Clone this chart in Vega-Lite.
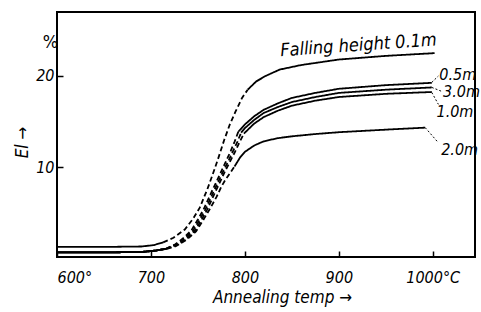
{
  "$schema": "https://vega.github.io/schema/vega-lite/v6.json",
  "width": 418,
  "height": 245,
  "autosize": "none",
  "padding": {"left": 57, "top": 12, "right": 6, "bottom": 55},
  "background": "white",
  "config": {
    "view": {"stroke": "black", "strokeWidth": 2},
    "font": "DejaVu Sans Condensed, Liberation Sans, sans-serif",
    "axis": {
      "domain": false, "grid": false,
      "tickColor": "black", "tickWidth": 1.5, "tickSize": -6,
      "labelFont": "DejaVu Sans Condensed, Liberation Sans, sans-serif", "labelFontStyle": "italic", "labelFontSize": 16, "labelColor": "black",
      "titleFont": "DejaVu Sans Condensed, Liberation Sans, sans-serif", "titleFontStyle": "italic", "titleFontWeight": "normal", "titleFontSize": 17, "titleColor": "black"
    }
  },
  "datasets": {
    "curves": [
      {"series": "0.1m", "seg": "solid-a", "temp": 600, "el": 1.3},
      {"series": "0.1m", "seg": "solid-a", "temp": 650, "el": 1.3},
      {"series": "0.1m", "seg": "solid-a", "temp": 690, "el": 1.35},
      {"series": "0.1m", "seg": "solid-a", "temp": 703, "el": 1.5},
      {"series": "0.1m", "seg": "solid-a", "temp": 713, "el": 1.8},
      {"series": "0.1m", "seg": "dashed", "temp": 713, "el": 1.8},
      {"series": "0.1m", "seg": "dashed", "temp": 724, "el": 2.3},
      {"series": "0.1m", "seg": "dashed", "temp": 736, "el": 3.2},
      {"series": "0.1m", "seg": "dashed", "temp": 745, "el": 4.4},
      {"series": "0.1m", "seg": "dashed", "temp": 752, "el": 5.6},
      {"series": "0.1m", "seg": "dashed", "temp": 760, "el": 7.6},
      {"series": "0.1m", "seg": "dashed", "temp": 766, "el": 9.3},
      {"series": "0.1m", "seg": "dashed", "temp": 772, "el": 11.1},
      {"series": "0.1m", "seg": "dashed", "temp": 778, "el": 13.0},
      {"series": "0.1m", "seg": "dashed", "temp": 784, "el": 14.7},
      {"series": "0.1m", "seg": "dashed", "temp": 790, "el": 16.1},
      {"series": "0.1m", "seg": "dashed", "temp": 797, "el": 17.6},
      {"series": "0.1m", "seg": "dashed", "temp": 803, "el": 18.5},
      {"series": "0.1m", "seg": "solid-b", "temp": 803, "el": 18.5},
      {"series": "0.1m", "seg": "solid-b", "temp": 812, "el": 19.4},
      {"series": "0.1m", "seg": "solid-b", "temp": 822, "el": 20.0},
      {"series": "0.1m", "seg": "solid-b", "temp": 837, "el": 20.7},
      {"series": "0.1m", "seg": "solid-b", "temp": 860, "el": 21.2},
      {"series": "0.1m", "seg": "solid-b", "temp": 900, "el": 21.8},
      {"series": "0.1m", "seg": "solid-b", "temp": 950, "el": 22.2},
      {"series": "0.1m", "seg": "solid-b", "temp": 1002, "el": 22.5},

      {"series": "0.5m", "seg": "solid-a", "temp": 600, "el": 0.7},
      {"series": "0.5m", "seg": "solid-a", "temp": 650, "el": 0.7},
      {"series": "0.5m", "seg": "solid-a", "temp": 690, "el": 0.75},
      {"series": "0.5m", "seg": "solid-a", "temp": 705, "el": 0.9},
      {"series": "0.5m", "seg": "solid-a", "temp": 716, "el": 1.1},
      {"series": "0.5m", "seg": "dashed", "temp": 716, "el": 1.1},
      {"series": "0.5m", "seg": "dashed", "temp": 726, "el": 1.6},
      {"series": "0.5m", "seg": "dashed", "temp": 735, "el": 2.3},
      {"series": "0.5m", "seg": "dashed", "temp": 743, "el": 3.1},
      {"series": "0.5m", "seg": "dashed", "temp": 750, "el": 4.3},
      {"series": "0.5m", "seg": "dashed", "temp": 756, "el": 5.4},
      {"series": "0.5m", "seg": "dashed", "temp": 764, "el": 7.2},
      {"series": "0.5m", "seg": "dashed", "temp": 770, "el": 8.5},
      {"series": "0.5m", "seg": "dashed", "temp": 775, "el": 9.6},
      {"series": "0.5m", "seg": "dashed", "temp": 780, "el": 10.7},
      {"series": "0.5m", "seg": "dashed", "temp": 785, "el": 11.8},
      {"series": "0.5m", "seg": "dashed", "temp": 789, "el": 12.8},
      {"series": "0.5m", "seg": "dashed", "temp": 793, "el": 13.9},
      {"series": "0.5m", "seg": "solid-b", "temp": 793, "el": 13.9},
      {"series": "0.5m", "seg": "solid-b", "temp": 800, "el": 14.7},
      {"series": "0.5m", "seg": "solid-b", "temp": 810, "el": 15.6},
      {"series": "0.5m", "seg": "solid-b", "temp": 820, "el": 16.3},
      {"series": "0.5m", "seg": "solid-b", "temp": 835, "el": 17.0},
      {"series": "0.5m", "seg": "solid-b", "temp": 850, "el": 17.6},
      {"series": "0.5m", "seg": "solid-b", "temp": 875, "el": 18.15},
      {"series": "0.5m", "seg": "solid-b", "temp": 900, "el": 18.6},
      {"series": "0.5m", "seg": "solid-b", "temp": 950, "el": 19.0},
      {"series": "0.5m", "seg": "solid-b", "temp": 999, "el": 19.25},

      {"series": "3.0m", "seg": "solid-a", "temp": 600, "el": 0.7},
      {"series": "3.0m", "seg": "solid-a", "temp": 650, "el": 0.7},
      {"series": "3.0m", "seg": "solid-a", "temp": 690, "el": 0.75},
      {"series": "3.0m", "seg": "solid-a", "temp": 705, "el": 0.9},
      {"series": "3.0m", "seg": "solid-a", "temp": 716, "el": 1.1},
      {"series": "3.0m", "seg": "dashed", "temp": 716, "el": 1.1},
      {"series": "3.0m", "seg": "dashed", "temp": 728, "el": 1.6},
      {"series": "3.0m", "seg": "dashed", "temp": 737, "el": 2.3},
      {"series": "3.0m", "seg": "dashed", "temp": 745, "el": 3.1},
      {"series": "3.0m", "seg": "dashed", "temp": 752, "el": 4.3},
      {"series": "3.0m", "seg": "dashed", "temp": 758, "el": 5.4},
      {"series": "3.0m", "seg": "dashed", "temp": 766, "el": 7.2},
      {"series": "3.0m", "seg": "dashed", "temp": 772, "el": 8.5},
      {"series": "3.0m", "seg": "dashed", "temp": 777, "el": 9.6},
      {"series": "3.0m", "seg": "dashed", "temp": 782, "el": 10.6},
      {"series": "3.0m", "seg": "dashed", "temp": 787, "el": 11.7},
      {"series": "3.0m", "seg": "dashed", "temp": 792, "el": 12.8},
      {"series": "3.0m", "seg": "dashed", "temp": 796, "el": 13.8},
      {"series": "3.0m", "seg": "solid-b", "temp": 796, "el": 13.8},
      {"series": "3.0m", "seg": "solid-b", "temp": 800, "el": 14.3},
      {"series": "3.0m", "seg": "solid-b", "temp": 810, "el": 15.2},
      {"series": "3.0m", "seg": "solid-b", "temp": 820, "el": 15.95},
      {"series": "3.0m", "seg": "solid-b", "temp": 835, "el": 16.6},
      {"series": "3.0m", "seg": "solid-b", "temp": 850, "el": 17.15},
      {"series": "3.0m", "seg": "solid-b", "temp": 875, "el": 17.7},
      {"series": "3.0m", "seg": "solid-b", "temp": 900, "el": 18.15},
      {"series": "3.0m", "seg": "solid-b", "temp": 950, "el": 18.5},
      {"series": "3.0m", "seg": "solid-b", "temp": 999, "el": 18.75},

      {"series": "1.0m", "seg": "solid-a", "temp": 600, "el": 0.7},
      {"series": "1.0m", "seg": "solid-a", "temp": 650, "el": 0.7},
      {"series": "1.0m", "seg": "solid-a", "temp": 690, "el": 0.75},
      {"series": "1.0m", "seg": "solid-a", "temp": 705, "el": 0.9},
      {"series": "1.0m", "seg": "solid-a", "temp": 716, "el": 1.1},
      {"series": "1.0m", "seg": "dashed", "temp": 716, "el": 1.1},
      {"series": "1.0m", "seg": "dashed", "temp": 730, "el": 1.6},
      {"series": "1.0m", "seg": "dashed", "temp": 739, "el": 2.3},
      {"series": "1.0m", "seg": "dashed", "temp": 747, "el": 3.1},
      {"series": "1.0m", "seg": "dashed", "temp": 754, "el": 4.3},
      {"series": "1.0m", "seg": "dashed", "temp": 760, "el": 5.4},
      {"series": "1.0m", "seg": "dashed", "temp": 768, "el": 7.2},
      {"series": "1.0m", "seg": "dashed", "temp": 774, "el": 8.5},
      {"series": "1.0m", "seg": "dashed", "temp": 779, "el": 9.6},
      {"series": "1.0m", "seg": "dashed", "temp": 784, "el": 10.6},
      {"series": "1.0m", "seg": "dashed", "temp": 789, "el": 11.6},
      {"series": "1.0m", "seg": "dashed", "temp": 794, "el": 12.7},
      {"series": "1.0m", "seg": "dashed", "temp": 799, "el": 13.7},
      {"series": "1.0m", "seg": "solid-b", "temp": 799, "el": 13.7},
      {"series": "1.0m", "seg": "solid-b", "temp": 810, "el": 14.8},
      {"series": "1.0m", "seg": "solid-b", "temp": 820, "el": 15.5},
      {"series": "1.0m", "seg": "solid-b", "temp": 835, "el": 16.2},
      {"series": "1.0m", "seg": "solid-b", "temp": 850, "el": 16.75},
      {"series": "1.0m", "seg": "solid-b", "temp": 875, "el": 17.3},
      {"series": "1.0m", "seg": "solid-b", "temp": 900, "el": 17.7},
      {"series": "1.0m", "seg": "solid-b", "temp": 950, "el": 18.05},
      {"series": "1.0m", "seg": "solid-b", "temp": 999, "el": 18.25},

      {"series": "2.0m", "seg": "solid-a", "temp": 600, "el": 0.7},
      {"series": "2.0m", "seg": "solid-a", "temp": 650, "el": 0.7},
      {"series": "2.0m", "seg": "solid-a", "temp": 690, "el": 0.75},
      {"series": "2.0m", "seg": "solid-a", "temp": 705, "el": 0.9},
      {"series": "2.0m", "seg": "solid-a", "temp": 717, "el": 1.1},
      {"series": "2.0m", "seg": "dashed", "temp": 717, "el": 1.1},
      {"series": "2.0m", "seg": "dashed", "temp": 727, "el": 1.4},
      {"series": "2.0m", "seg": "dashed", "temp": 738, "el": 2.1},
      {"series": "2.0m", "seg": "dashed", "temp": 748, "el": 3.0},
      {"series": "2.0m", "seg": "dashed", "temp": 756, "el": 4.3},
      {"series": "2.0m", "seg": "dashed", "temp": 763, "el": 5.5},
      {"series": "2.0m", "seg": "dashed", "temp": 770, "el": 6.8},
      {"series": "2.0m", "seg": "dashed", "temp": 775, "el": 7.9},
      {"series": "2.0m", "seg": "dashed", "temp": 779, "el": 8.6},
      {"series": "2.0m", "seg": "dashed", "temp": 783, "el": 9.2},
      {"series": "2.0m", "seg": "dashed", "temp": 789, "el": 10.1},
      {"series": "2.0m", "seg": "solid-b", "temp": 789, "el": 10.1},
      {"series": "2.0m", "seg": "solid-b", "temp": 795, "el": 11.1},
      {"series": "2.0m", "seg": "solid-b", "temp": 800, "el": 11.7},
      {"series": "2.0m", "seg": "solid-b", "temp": 810, "el": 12.4},
      {"series": "2.0m", "seg": "solid-b", "temp": 820, "el": 12.85},
      {"series": "2.0m", "seg": "solid-b", "temp": 835, "el": 13.2},
      {"series": "2.0m", "seg": "solid-b", "temp": 850, "el": 13.4},
      {"series": "2.0m", "seg": "solid-b", "temp": 875, "el": 13.65},
      {"series": "2.0m", "seg": "solid-b", "temp": 900, "el": 13.85},
      {"series": "2.0m", "seg": "solid-b", "temp": 950, "el": 14.13},
      {"series": "2.0m", "seg": "solid-b", "temp": 992, "el": 14.35}
    ],
    "leaders": [
      {"series": "0.5m", "temp": 999, "el": 19.3, "temp2": 1006, "el2": 20.0},
      {"series": "3.0m", "temp": 999, "el": 18.75, "temp2": 1010, "el2": 18.3},
      {"series": "1.0m", "temp": 999, "el": 18.2, "temp2": 1006, "el2": 16.9},
      {"series": "2.0m", "temp": 992, "el": 14.35, "temp2": 1006, "el2": 12.7}
    ],
    "labels": [
      {"text": "0.5m", "temp": 1007, "el": 20.15},
      {"text": "3.0m", "temp": 1011, "el": 18.3},
      {"text": "1.0m", "temp": 1004, "el": 16.1},
      {"text": "2.0m", "temp": 1009, "el": 11.9}
    ],
    "title": [
      {"text": "Falling height 0.1m", "temp": 921, "el": 23.3}
    ],
    "unit": [
      {"text": "%", "temp": 593, "el": 23.6}
    ]
  },
  "layer": [
    {
      "data": {"name": "curves"},
      "mark": {"type": "line", "color": "black", "strokeWidth": 1.8},
      "encoding": {
        "x": {"field": "temp", "type": "quantitative",
          "scale": {"domain": [600, 1045], "nice": false, "zero": false},
          "axis": {"values": [600, 700, 800, 900, 1000], "title": "Annealing temp →",
            "labelExpr": "datum.value == 600 ? '600°' : datum.value == 1000 ? '1000°C' : datum.label",
            "labelPadding": 18, "titlePadding": 4, "titleX": 225}},
        "y": {"field": "el", "type": "quantitative",
          "scale": {"domain": [0.2, 27], "nice": false, "zero": false},
          "axis": {"values": [10, 20], "title": "El →", "labelPadding": 9, "titlePadding": 4, "titleY": 130}},
        "detail": {"field": "series"},
        "strokeDash": {"field": "seg", "type": "nominal",
          "scale": {"domain": ["solid-a", "dashed", "solid-b"], "range": [[1, 0], [5, 3], [1, 0]]},
          "legend": null}
      }
    },
    {
      "data": {"name": "leaders"},
      "mark": {"type": "rule", "color": "black", "strokeWidth": 1, "strokeDash": [2, 2]},
      "encoding": {
        "x": {"field": "temp", "type": "quantitative"},
        "y": {"field": "el", "type": "quantitative"},
        "x2": {"field": "temp2"},
        "y2": {"field": "el2"}
      }
    },
    {
      "data": {"name": "labels"},
      "mark": {"type": "text", "align": "left", "baseline": "middle", "fontSize": 16, "fontStyle": "italic", "font": "DejaVu Sans Condensed, Liberation Sans, sans-serif", "color": "black"},
      "encoding": {
        "x": {"field": "temp", "type": "quantitative"},
        "y": {"field": "el", "type": "quantitative"},
        "text": {"field": "text"}
      }
    },
    {
      "data": {"name": "title"},
      "mark": {"type": "text", "align": "center", "baseline": "middle", "fontSize": 18, "fontStyle": "italic", "font": "DejaVu Sans Condensed, Liberation Sans, sans-serif", "color": "black", "angle": -4},
      "encoding": {
        "x": {"field": "temp", "type": "quantitative"},
        "y": {"field": "el", "type": "quantitative"},
        "text": {"field": "text"}
      }
    },
    {
      "data": {"name": "unit"},
      "mark": {"type": "text", "align": "center", "baseline": "middle", "fontSize": 18, "font": "DejaVu Sans Condensed, Liberation Sans, sans-serif", "color": "black"},
      "encoding": {
        "x": {"field": "temp", "type": "quantitative"},
        "y": {"field": "el", "type": "quantitative"},
        "text": {"field": "text"}
      }
    }
  ]
}
